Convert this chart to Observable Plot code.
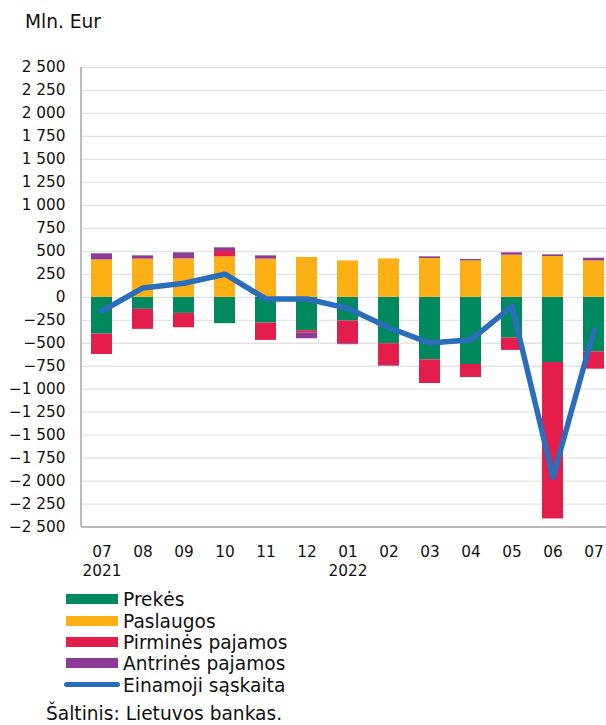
<!DOCTYPE html>
<html>
<head>
<meta charset="utf-8">
<script src="https://cdn.jsdelivr.net/npm/d3@7"></script>
<script src="https://cdn.jsdelivr.net/npm/@observablehq/plot@0.6"></script>
<style>
  html, body { margin: 0; padding: 0; background: white; overflow: hidden; }
  body { position: relative; width: 606px; height: 725px; font-family: "DejaVu Sans", sans-serif; color: #111; }
  .txt { position: absolute; font-size: 18.6px; line-height: 22px; white-space: nowrap; z-index: 2; }
  .sw { position: absolute; width: 52px; height: 10px; z-index: 2; }
  #chart { position: absolute; left: 0; top: 0; z-index: 1; }
</style>
</head>
<body>
<div id="chart"></div>
<div class="txt" id="title" style="left:25px; top:11px;">Mln. Eur</div>
<div id="legend"></div>
<div class="txt" id="source" style="left:46px; top:702.5px;">Šaltinis: Lietuvos bankas.</div>
<script>
// ---- data ----
const periods = ["2021-07","2021-08","2021-09","2021-10","2021-11","2021-12","2022-01","2022-02","2022-03","2022-04","2022-05","2022-06","2022-07"];
const tickLabels = ["07\n2021","08","09","10","11","12","01\n2022","02","03","04","05","06","07"];
const seriesNames = ["Prekės","Paslaugos","Pirminės pajamos","Antrinės pajamos"];
const lineName = "Einamoji sąskaita";
const prekes    = [-400,-131,-175,-287,-280,-364,-258,-505,-680,-731,-444,-709,-593];
const paslaugos = [407,415,418,440,415,433,396,418,422,396,458,444,396];
const pirmines  = [-222,-218,-156,58,-189,-25,-247,-237,-258,-142,-134,-1702,-189];
const antrines  = [66,36,66,40,36,-62,-11,-7,18,15,26,18,29];
const einamoji  = [-149,102,153,251,-18,-18,-120,-331,-498,-462,-96,-1958,-357];
const yTicks = d3.range(-2500, 2501, 250);

// ---- styles ----
const seriesColors = ["#00895e","#fdb016","#e41e4a","#8c3c96"];
const lineColor = "#2a6ebb";

const seriesValues = [prekes, paslaugos, pirmines, antrines];
const rows = [];
seriesNames.forEach((s, si) => {
  periods.forEach((p, i) => rows.push({period: p, series: s, value: seriesValues[si][i]}));
});
const lineRows = periods.map((p, i) => ({period: p, value: einamoji[i]}));

const fmt = d => {
  const a = Math.abs(d);
  const s = a >= 1000 ? Math.floor(a / 1000) + " " + String(a % 1000).padStart(3, "0") : String(a);
  return (d < 0 ? "\u2212" : "") + s;
};

const H = 580;
const chart = Plot.plot({
  width: 606,
  height: H,
  marginTop: 67,
  marginBottom: H - 526.6,
  marginLeft: 81,
  marginRight: -8.4,
  style: {fontFamily: "DejaVu Sans", fontSize: "15.3px", color: "#111", background: "transparent", overflow: "hidden"},
  x: {type: "band", domain: periods, paddingInner: 0.5, paddingOuter: 0.25},
  y: {domain: [-2500, 2500]},
  color: {domain: seriesNames, range: seriesColors},
  marks: [
    Plot.gridY(yTicks, {stroke: "#e3e3e3", strokeOpacity: 1, strokeWidth: 1.3}),
    Plot.barY(rows, {x: "period", y: "value", fill: "series"}),
    Plot.lineY(lineRows, {x: "period", y: "value", stroke: lineColor, strokeWidth: 5.5, strokeLinecap: "round", strokeLinejoin: "round"}),
    Plot.ruleY([-2500], {stroke: "#a6a6a6", strokeWidth: 1.5}),
    (index, scales, values, dims) => {
      const ns = "http://www.w3.org/2000/svg";
      const l = document.createElementNS(ns, "line");
      l.setAttribute("x1", dims.marginLeft);
      l.setAttribute("x2", dims.marginLeft);
      l.setAttribute("y1", scales.y(2500));
      l.setAttribute("y2", scales.y(-2500));
      l.setAttribute("stroke", "#a6a6a6");
      l.setAttribute("stroke-width", 1.5);
      return l;
    },
    Plot.axisY({ticks: yTicks, tickSize: 0, tickPadding: 16, tickFormat: fmt, fill: "#111", label: null}),
    Plot.axisX({tickSize: 0, tickPadding: 16.8, tickFormat: d => tickLabels[periods.indexOf(d)], lineHeight: 1.24, fill: "#111", label: null})
  ]
});
document.getElementById("chart").appendChild(chart);

// ---- legend ----
const legend = document.getElementById("legend");
const base0 = 606.7, step = 21.3;
const items = seriesNames.map((n, i) => ({name: n, color: seriesColors[i], kind: "rect"}))
  .concat([{name: lineName, color: lineColor, kind: "line"}]);
items.forEach((it, i) => {
  const baseline = base0 + i * step;
  const sw = document.createElement("div");
  sw.className = "sw";
  sw.style.left = "66px";
  if (it.kind === "rect") {
    sw.style.top = (baseline - 7.5 - 5) + "px";
    sw.style.background = it.color;
  } else {
    sw.style.left = "64px";
    sw.style.width = "56px";
    sw.style.height = "5.5px";
    sw.style.borderRadius = "3px";
    sw.style.top = (baseline - 7.5 - 2.75) + "px";
    sw.style.background = it.color;
  }
  legend.appendChild(sw);
  const t = document.createElement("div");
  t.className = "txt";
  t.style.left = "123px";
  t.style.top = (baseline - 17.3) + "px";
  t.textContent = it.name;
  legend.appendChild(t);
});
</script>
</body>
</html>
